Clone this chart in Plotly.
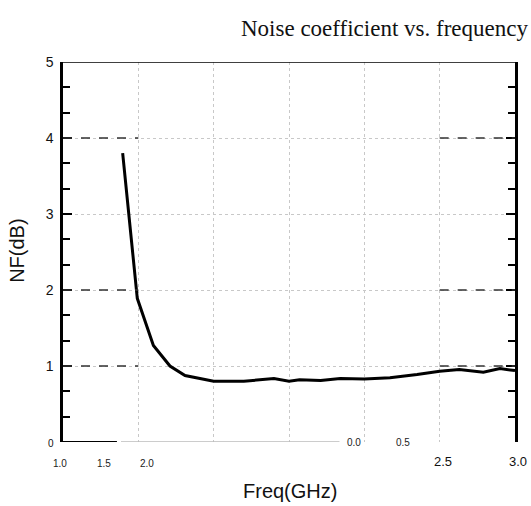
import plotly.graph_objects as go

# ---- data ----
freq_ghz = [0.396, 0.493, 0.60, 0.71, 0.81, 1.00, 1.20, 1.40, 1.50, 1.57, 1.71,
            1.84, 2.00, 2.17, 2.35, 2.50, 2.63, 2.79, 2.90, 3.00]
nf_db = [3.80, 1.89, 1.27, 1.00, 0.874, 0.80, 0.80, 0.834, 0.80, 0.82, 0.81,
         0.834, 0.83, 0.844, 0.887, 0.93, 0.953, 0.917, 0.966, 0.94]

y_tick_vals = [0, 1, 2, 3, 4, 5]
y_tick_text = ["<span style='font-size:10px'>0</span>", "1", "2", "3", "4", "5"]

# x tick labels as they appear (scattered), positions in plot-width fractions
x_lab_small_low = ["1.0", "1.5", "2.0"]
x_lab_small_low_pos = [-0.007, 0.091, 0.186]
x_lab_small_mid = ["0.0", "0.5"]
x_lab_small_mid_pos = [0.644, 0.752]
x_lab_big = ["2.5", "3.0"]
x_lab_big_pos = [0.841, 1.007]

dashed_levels = [1, 2, 4]
dashed_spans = [(0.0, 0.5), (2.5, 3.0)]

SANS = "Liberation Sans, Arial, sans-serif"

fig = go.Figure()
fig.add_trace(go.Scatter(x=freq_ghz, y=nf_db, mode="lines",
                         line=dict(color="black", width=3), showlegend=False,
                         hoverinfo="skip"))

shapes = []
for lv in dashed_levels:
    for a, b in dashed_spans:
        shapes.append(dict(type="line", xref="x", yref="y", x0=a, x1=b, y0=lv, y1=lv,
                           line=dict(color="#333333", width=1.5, dash="dash"), layer="above"))
# top border
shapes.append(dict(type="line", xref="x", yref="y", x0=0, x1=3, y0=5, y1=5,
                   line=dict(color="black", width=1.5)))
# bottom border pieces
shapes.append(dict(type="line", xref="x", yref="y", x0=0, x1=0.358, y0=0, y1=0,
                   line=dict(color="black", width=2)))
shapes.append(dict(type="line", xref="x", yref="y", x0=0.385, x1=1.835, y0=0, y1=0,
                   line=dict(color="#bbbbbb", width=1.5)))
shapes.append(dict(type="line", xref="x", yref="y", x0=2.5, x1=3.0, y0=-0.04, y1=-0.04,
                   line=dict(color="black", width=2)))
shapes.append(dict(type="line", xref="x", yref="y", x0=3.0, x1=3.0, y0=-0.04, y1=0,
                   line=dict(color="black", width=2.5)))
shapes.append(dict(type="line", xref="x", yref="y", x0=2.5, x1=2.5, y0=-0.04, y1=0,
                   line=dict(color="#c8c8c8", width=1, dash="dot")))

def lab(text, x, y, size, color="#222", **kw):
    return dict(text=text, x=x, y=y, xref="paper", yref="paper", showarrow=False,
                xanchor="center", yanchor="middle",
                font=dict(family=SANS, size=size, color=color), **kw)

annotations = []
for t, p in zip(x_lab_small_low, x_lab_small_low_pos):
    annotations.append(lab(t, p, -0.0565, 10))
for t, p in zip(x_lab_small_mid, x_lab_small_mid_pos):
    annotations.append(lab(t, p, -0.0013, 10))
for t, p in zip(x_lab_big, x_lab_big_pos):
    annotations.append(lab(t, p, -0.051, 13, "#111"))
annotations.append(lab("Freq(GHz)", 0.502, -0.13, 20, "#111"))
annotations.append(lab("NF(dB)", -0.1018, 0.503, 20, "#111", textangle=-90))
annotations.append(dict(text="Noise coefficient vs. frequency", x=1.0265, y=1.089,
                        xref="paper", yref="paper", xanchor="right", yanchor="middle",
                        xshift=3, showarrow=False,
                        font=dict(family="Liberation Serif, Times New Roman, serif",
                                  size=23, color="#111")))

fig.update_layout(
    width=531, height=506,
    margin=dict(l=63, r=16, t=62, b=63.5),
    paper_bgcolor="white", plot_bgcolor="white",
    shapes=shapes, annotations=annotations,
    xaxis=dict(range=[0, 3], showline=False, ticks="", showticklabels=False,
               showgrid=True, gridcolor="#c8c8c8", griddash="dot", gridwidth=1,
               dtick=0.5, tick0=0, zeroline=False),
    yaxis=dict(range=[0, 5], showline=True, linecolor="black", linewidth=2.5,
               mirror="ticks", ticks="inside", ticklen=9, tickwidth=2, tickcolor="black",
               tickmode="array", tickvals=y_tick_vals, ticktext=y_tick_text,
               tickfont=dict(family=SANS, size=14, color="#111"),
               ticklabelstandoff=4,
               showgrid=True, gridcolor="#c8c8c8", griddash="dot", gridwidth=1,
               zeroline=False,
               minor=dict(tickmode="linear", tick0=0, dtick=1/3, ticks="inside",
                          ticklen=7, tickwidth=2, tickcolor="black", showgrid=False)),
)

fig.write_html("out.html", config={"displayModeBar": False},
               post_script="document.body.style.margin='0';")
